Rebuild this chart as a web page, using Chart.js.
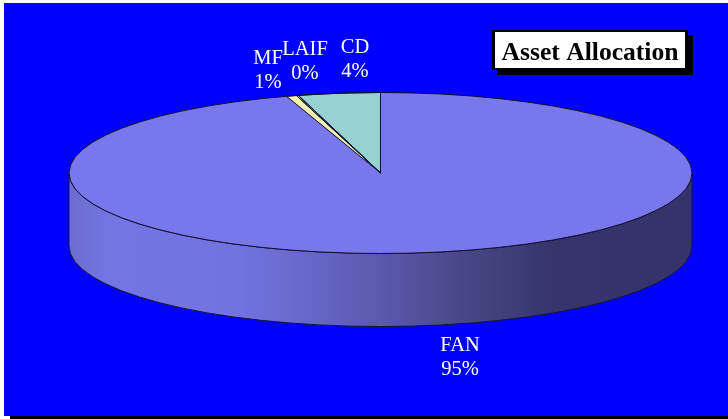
<!DOCTYPE html>
<html><head><meta charset="utf-8">
<style>html,body{margin:0;padding:0;background:#fff;overflow:hidden}#wrap{width:728px;height:419px}canvas{display:block}</style>
<script src="https://cdn.jsdelivr.net/npm/chart.js@4"></script>
</head><body><div id="wrap"><canvas id="c" width="728" height="419"></canvas></div>
<script>
const categories = ['FAN', 'MF', 'LAIF', 'CD'];
const shares = [95.12, 0.53, 0.1, 4.25];
const sliceColors = ['#7878EC', '#F0F0B0', '#F0F0B0', '#96D2D2'];
const chartTitle = 'Asset Allocation';
const labelPositions = [[460, 351], [268, 64], [305, 55], [355, 53]];

const RX = 311.5, RY = 80.5, DEPTH = 73;

class Pie3D extends Chart.PieController {
  draw() {
    const ctx = this.chart.ctx;
    const arcs = this.getMeta().data;
    const cx = arcs[0].x, cy = arcs[0].y;
    const g = ctx.createLinearGradient(cx - RX, 0, cx + RX, 0);
    g.addColorStop(0, '#6C6CD0');
    g.addColorStop(0.06, '#7474E2');
    g.addColorStop(0.28, '#7272E0');
    g.addColorStop(0.5, '#5A5AAE');
    g.addColorStop(0.63, '#484888');
    g.addColorStop(0.78, '#35356C');
    g.addColorStop(1, '#34346A');
    ctx.save();
    ctx.beginPath();
    ctx.ellipse(cx, cy + DEPTH, RX, RY, 0, Math.PI, 0, true);
    ctx.lineTo(cx + RX, cy);
    ctx.ellipse(cx, cy, RX, RY, 0, 0, Math.PI, false);
    ctx.closePath();
    ctx.fillStyle = g;
    ctx.fill();
    ctx.strokeStyle = '#14143A';
    ctx.lineWidth = 1;
    ctx.stroke();
    ctx.restore();

    ctx.save();
    ctx.translate(0, cy);
    ctx.scale(1, RY / RX);
    ctx.translate(0, -cy);
    super.draw();
    ctx.restore();

    ctx.save();
    ctx.strokeStyle = '#101030';
    ctx.lineWidth = 1;
    arcs.forEach((a, i) => {
      if (i === 0) return;
      ctx.beginPath();
      ctx.moveTo(cx, cy);
      ctx.ellipse(cx, cy, RX, RY, 0, a.startAngle, a.endAngle);
      ctx.closePath();
      ctx.stroke();
    });
    ctx.beginPath();
    ctx.ellipse(cx, cy, RX, RY, 0, 0, Math.PI * 2);
    ctx.stroke();
    ctx.restore();
  }
}
Pie3D.id = 'pie3d';
Pie3D.defaults = Chart.PieController.defaults;
Chart.register(Pie3D);

const frame = {
  id: 'frame',
  beforeDraw(chart) {
    const ctx = chart.ctx;
    ctx.save();
    ctx.fillStyle = '#fff'; ctx.fillRect(0, 0, 728, 419);
    ctx.fillStyle = '#000'; ctx.fillRect(10, 9, 718, 410);
    ctx.fillStyle = '#0000FF'; ctx.fillRect(4, 3, 724, 413);
    ctx.restore();
  },
  afterDraw(chart) {
    const ctx = chart.ctx;
    ctx.save();
    ctx.fillStyle = '#fff';
    ctx.textAlign = 'center';
    ctx.textBaseline = 'alphabetic';
    ctx.font = '20.5px "Liberation Serif"';
    categories.forEach((c, i) => {
      const [x, y] = labelPositions[i];
      ctx.fillText(c, x, y);
      ctx.fillText(Math.round(shares[i]) + '%', x, y + 24);
    });
    ctx.fillStyle = '#000'; ctx.fillRect(497, 35, 196, 40);
    ctx.fillStyle = '#000'; ctx.fillRect(492, 30, 196, 40);
    ctx.fillStyle = '#fff'; ctx.fillRect(495, 32, 190, 36);
    ctx.fillStyle = '#000';
    ctx.font = 'bold 25.6px "Liberation Serif"';
    ctx.fillText(chartTitle, 590, 60);
    ctx.restore();
  }
};

new Chart(document.getElementById('c'), {
  type: 'pie3d',
  data: { labels: categories, datasets: [{ data: shares, backgroundColor: sliceColors, borderWidth: 0, clip: false }] },
  options: {
    responsive: false, animation: false, radius: RX,
    layout: { padding: { left: 33, right: 0, top: 0, bottom: DEPTH } },
    plugins: { legend: { display: false }, tooltip: { enabled: false }, title: { display: false } }
  },
  plugins: [frame]
});
</script></body></html>
